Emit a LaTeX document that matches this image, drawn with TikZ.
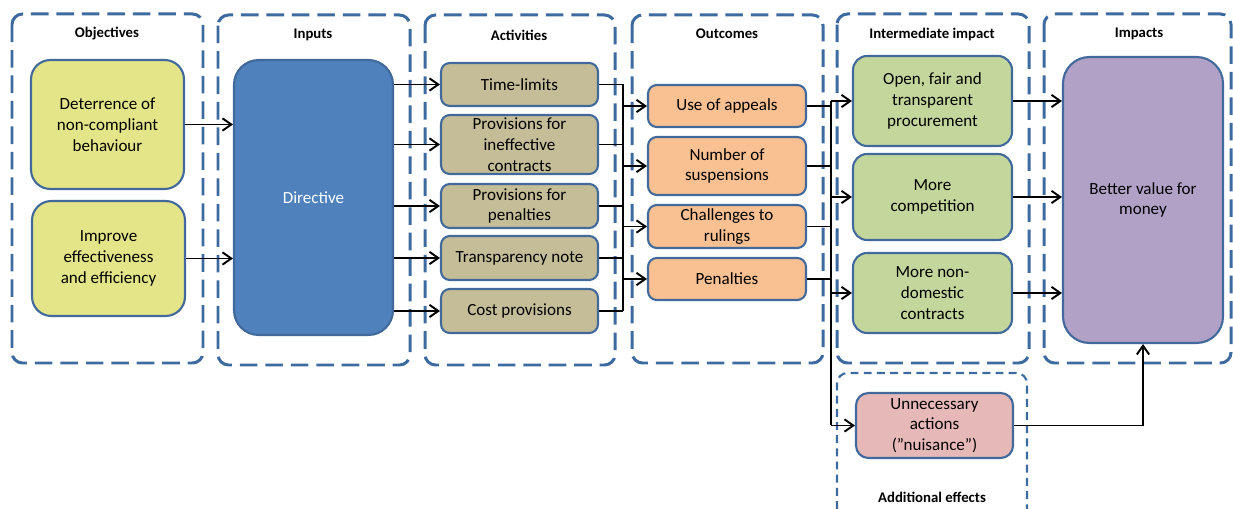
\documentclass[tikz,border=0pt]{standalone}
\usepackage{fontspec}
\setmainfont{Carlito}
\usetikzlibrary{arrows.meta}

\definecolor{framecol}{HTML}{3E6B9F}
\definecolor{edgecol}{HTML}{41699B}
\definecolor{objfill}{HTML}{E4E589}
\definecolor{dirfill}{HTML}{4F81BD}
\definecolor{actfill}{HTML}{C4BD97}
\definecolor{outfill}{HTML}{F9C092}
\definecolor{midfill}{HTML}{C3D69B}
\definecolor{impfill}{HTML}{B2A1C7}
\definecolor{unnfill}{HTML}{E6B9B8}

\tikzset{
  colframe/.style={draw=framecol, line width=1.7pt, dash pattern=on 10pt off 4.5pt, rounded corners=6pt},
  addframe/.style={draw=framecol, line width=1.2pt, dash pattern=on 4.5pt off 3pt, rounded corners=6pt},
  head/.style={font=\bfseries\fontsize{8.4}{10}\selectfont},
  box/.style={draw=edgecol, line width=1.2pt, align=center, inner sep=0pt,
    font=\fontsize{9.7}{11.8}\selectfont},
  arr/.style={-{Straight Barb[length=5pt,width=7pt]}},
}

\begin{document}
\begin{tikzpicture}[x=0.02cm, y=-0.02cm]
  \useasboundingbox (0,0) rectangle (1233,509);

  % column frames
  \draw[colframe] (12,14) rectangle (203,363);
  \draw[colframe] (218,15) rectangle (410,365);
  \draw[colframe] (425,15) rectangle (615,365);
  \draw[colframe] (632,15) rectangle (823,363);
  \draw[colframe] (837,14) rectangle (1029,363);
  \draw[colframe] (1044,14) rectangle (1231,363);
  \draw[addframe] (837,509) -- (837,373) -- (1027,373) -- (1027,509);

  \begin{scope}[every node/.style={head}]
    \node (hobj) at (107,34)  {Objectives};
    \node (hin)  at (313,35)  {Inputs};
    \node (hact) at (519,35)  {Activities};
    \node (hout) at (727,34)  {Outcomes};
    \node (hmid) at (932,34)  {Intermediate impact};
    \node (himp) at (1139,34) {Impacts};
    \node (hadd) at (932,497) {Additional effects};
  \end{scope}

  \begin{scope}[every node/.style={box, fill=objfill, rounded corners=11pt, minimum width=3.06cm}]
    \node[minimum height=2.58cm] (obj1) at (107.5,124.5) {Deterrence of\\non-compliant\\behaviour};
    \node[minimum height=2.30cm] (obj2) at (108.5,258.5) {Improve\\effectiveness\\and efficiency};
  \end{scope}

  \node[box, fill=dirfill, text=white, rounded corners=14pt, minimum width=3.18cm,
    minimum height=5.5cm] (dir) at (313.5,197.5) {Directive};

  \begin{scope}[every node/.style={box, fill=actfill, rounded corners=5pt, minimum width=3.14cm}]
    \node[minimum height=0.86cm] (tl)  at (519.5,84.5) {Time-limits};
    \node[minimum height=1.18cm] (pic) at (519.5,144.5) {Provisions for\\ineffective\\contracts};
    \node[minimum height=0.88cm] (pp)  at (519.5,206) {Provisions for\\penalties};
    \node[minimum height=0.88cm] (tn)  at (519.5,258) {Transparency note};
    \node[minimum height=0.88cm] (cp)  at (519.5,311) {Cost provisions};
  \end{scope}

  \begin{scope}[every node/.style={box, fill=outfill, rounded corners=5pt, minimum width=3.16cm}]
    \node[minimum height=0.84cm] (ua) at (727,106)   {Use of appeals};
    \node[minimum height=1.16cm] (ns) at (727,166)   {Number of\\suspensions};
    \node[minimum height=0.86cm] (cr) at (727,226.5) {Challenges to\\rulings};
    \node[minimum height=0.84cm] (pe) at (727,279)   {Penalties};
  \end{scope}

  \begin{scope}[every node/.style={box, fill=midfill, rounded corners=8pt, minimum width=3.18cm}]
    \node[minimum height=1.80cm] (ofp) at (932.5,101) {Open, fair and\\transparent\\procurement};
    \node[minimum height=1.72cm] (mc)  at (932.5,197) {More\\competition};
    \node[minimum height=1.60cm] (mnd) at (932.5,293) {More non-\\domestic\\contracts};
  \end{scope}

  \node[box, fill=impfill, rounded corners=15pt, minimum width=3.2cm,
    minimum height=5.72cm] (imp) at (1143,200) {Better value for\\money};
  \node[box, fill=unnfill, rounded corners=7pt, minimum width=3.14cm,
    minimum height=1.3cm] (unn) at (934.5,425.5) {Unnecessary\\actions\\(”nuisance”)};

  \coordinate (abus) at (623,0);
  \coordinate (obus) at (831,0);

  \begin{scope}[every edge/.style={draw, line width=1.1pt}]
    \path (obj1.east) edge[arr] (obj1.east -| dir.west);
    \path (obj2.east) edge[arr] (obj2.east -| dir.west);

    \path (dir.east |- tl.west)  edge[arr] (tl.west);
    \path (dir.east |- pic.west) edge[arr] (pic.west);
    \path (dir.east |- pp.west)  edge[arr] (pp.west);
    \path (dir.east |- tn.west)  edge[arr] (tn.west);
    \path (dir.east |- cp.west)  edge[arr] (cp.west);

    \path (tl.east)  edge (tl.east -| abus);
    \path (pic.east) edge (pic.east -| abus);
    \path (pp.east)  edge (pp.east -| abus);
    \path (tn.east)  edge (tn.east -| abus);
    \path (cp.east)  edge (cp.east -| abus);
    \path (tl.east -| abus) edge (cp.east -| abus);

    \path (ua.west -| abus) edge[arr] (ua.west);
    \path (ns.west -| abus) edge[arr] (ns.west);
    \path (cr.west -| abus) edge[arr] (cr.west);
    \path (pe.west -| abus) edge[arr] (pe.west);

    \path (ua.east) edge (ua.east -| obus);
    \path (ns.east) edge (ns.east -| obus);
    \path (cr.east) edge (cr.east -| obus);
    \path (pe.east) edge (pe.east -| obus);
    \path (ofp.west -| obus) edge (unn.west -| obus);

    \path (ofp.west -| obus) edge[arr] (ofp.west);
    \path (mc.west -| obus)  edge[arr] (mc.west);
    \path (mnd.west -| obus) edge[arr] (mnd.west);
    \path (unn.west -| obus) edge[arr] (unn.west);

    \path (ofp.east) edge[arr] (ofp.east -| imp.west);
    \path (mc.east)  edge[arr] (mc.east -| imp.west);
    \path (mnd.east) edge[arr] (mnd.east -| imp.west);
  \end{scope}
  \draw[line width=1.1pt, arr] (unn.east) -| (imp.south);

\end{tikzpicture}
\end{document}
